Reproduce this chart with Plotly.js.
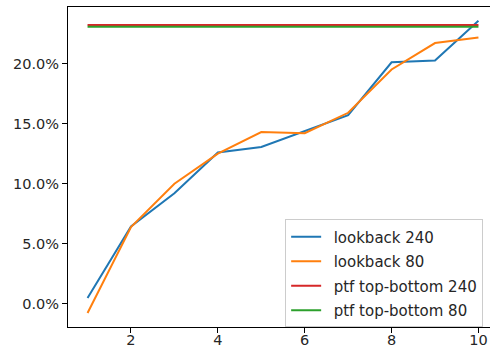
<!DOCTYPE html>
<html>
<head>
<meta charset="utf-8">
<script src="https://cdn.plot.ly/plotly-3.0.1.min.js"></script>
<style>
  html, body { margin: 0; padding: 0; overflow: hidden; background: #fff; }
  #chart { width: 498px; height: 351px; }
</style>
</head>
<body>
<div id="chart"></div>
<script>
// Holding-period buckets
const periods = [1, 2, 3, 4, 5, 6, 7, 8, 9, 10];

// Cumulative return by bucket for each lookback window
const lookback240 = [0.0050, 0.0645, 0.0920, 0.1260, 0.1306, 0.1440, 0.1570, 0.2010, 0.2025, 0.2356];
const lookback80  = [-0.0075, 0.0640, 0.1000, 0.1250, 0.1430, 0.1420, 0.1590, 0.1950, 0.2170, 0.2217];

// Top-minus-bottom portfolio return (flat reference level)
const ptfTopBottom240 = 0.2320;
const ptfTopBottom80  = 0.2306;

const seriesNames = ['lookback 240', 'lookback 80', 'ptf top-bottom 240', 'ptf top-bottom 80'];
const seriesColors = ['#1f77b4', '#ff7f0e', '#d62728', '#2ca02c'];

const yTicks = [0, 0.05, 0.10, 0.15, 0.20];
const xTicks = [2, 4, 6, 8, 10];

const span = [periods[0], periods[periods.length - 1]];

// en space keeps a wider gap between legend swatch and label
const legendLabel = s => '\u2002' + s;

const traces = [
  { x: periods, y: lookback240, name: seriesNames[0] },
  { x: periods, y: lookback80, name: seriesNames[1] },
  { x: span, y: [ptfTopBottom240, ptfTopBottom240], name: seriesNames[2] },
  { x: span, y: [ptfTopBottom80, ptfTopBottom80], name: seriesNames[3] }
].map((t, i) => Object.assign(t, {
  type: 'scatter',
  mode: 'lines',
  name: legendLabel(t.name),
  legendgroup: 'g' + i,
  line: { color: seriesColors[i], width: 2 },
  hoverinfo: 'skip'
}));

const tickFont = { family: 'DejaVu Sans', size: 14.5, color: '#262626' };
const legendFont = { family: 'DejaVu Sans', size: 15, color: '#262626' };

const axisCommon = {
  showgrid: false,
  zeroline: false,
  showline: true,
  linecolor: '#000',
  linewidth: 1,
  mirror: true,
  ticks: 'outside',
  ticklen: 5,
  tickwidth: 1,
  tickcolor: '#000',
  tickfont: tickFont
};

const layout = {
  width: 498,
  height: 351,
  margin: { l: 68, r: 0, t: 7, b: 24 },
  paper_bgcolor: '#fff',
  plot_bgcolor: '#fff',
  showlegend: true,
  xaxis: Object.assign({}, axisCommon, {
    range: [0.55, 10.45],
    tickvals: xTicks,
    ticktext: xTicks.map(String),
    ticklabelstandoff: -5
  }),
  yaxis: Object.assign({}, axisCommon, {
    range: [-0.0192, 0.247],
    tickvals: yTicks,
    tickformat: '.1%'
  }),
  legend: {
    x: 0.505,
    y: 0.336,
    xanchor: 'left',
    yanchor: 'top',
    bgcolor: 'rgba(255,255,255,0.8)',
    bordercolor: '#cccccc',
    borderwidth: 1,
    itemwidth: 30,
    tracegroupgap: 2,
    font: legendFont
  }
};

Plotly.newPlot('chart', traces, layout, { staticPlot: true, displayModeBar: false });
</script>
</body>
</html>
